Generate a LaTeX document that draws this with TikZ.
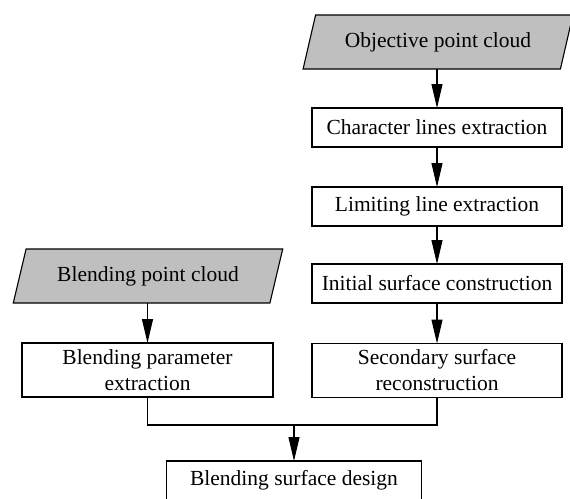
\documentclass[tikz,border=0pt]{standalone}
\usepackage{fontspec}
\setmainfont{Liberation Serif}
\usetikzlibrary{shapes.geometric,arrows.meta}
\begin{document}
\begin{tikzpicture}[x=1pt,y=-1pt,
  every node/.style={font=\fontsize{21.5}{26}\selectfont, align=center, inner sep=0pt, outer sep=0pt},
  box/.style={draw, line width=1.1pt, minimum height=39pt},
  tallbox/.style={draw, line width=1.1pt, minimum height=54pt},
  para/.style={draw, line width=1.1pt, fill=black!25, trapezium, trapezium left angle=64, trapezium right angle=116, trapezium stretches=true, minimum width=270pt, minimum height=54pt},
  arr/.style={line width=1.1pt, -{Triangle[length=24pt,width=11pt]}},
  ln/.style={line width=1.1pt}]
\useasboundingbox (0,0) rectangle (570,498);
\node[para] (obj) at (438,42) {Objective point cloud};
\node[box, minimum width=250pt] (char) at (437,127.5) {Character lines extraction};
\node[box, minimum width=250pt] (lim) at (437,206.5) {Limiting line extraction};
\node[box, minimum width=250pt] (init) at (437,283.5) {Initial surface construction};
\node[tallbox, minimum width=250pt] (sec) at (437,370.5) {Secondary surface\\reconstruction};
\node[para] (blp) at (148,276) {Blending point cloud};
\node[tallbox, minimum width=251pt] (bpe) at (147.5,370) {Blending parameter\\extraction};
\node[box, minimum width=255pt] (bsd) at (294,480.5) {Blending surface design};
\coordinate (j) at (294,425);
\draw[arr] (obj.south -| char.north) -- (char.north);
\draw[arr] (char) -- (lim);
\draw[arr] (lim) -- (init);
\draw[arr] (init) -- (sec);
\draw[arr] (blp.south -| bpe.north) -- (bpe.north);
\draw[ln] (sec.south) |- (j) -| (bpe.south);
\draw[arr] (j) -- (bsd.north);
\end{tikzpicture}
\end{document}
